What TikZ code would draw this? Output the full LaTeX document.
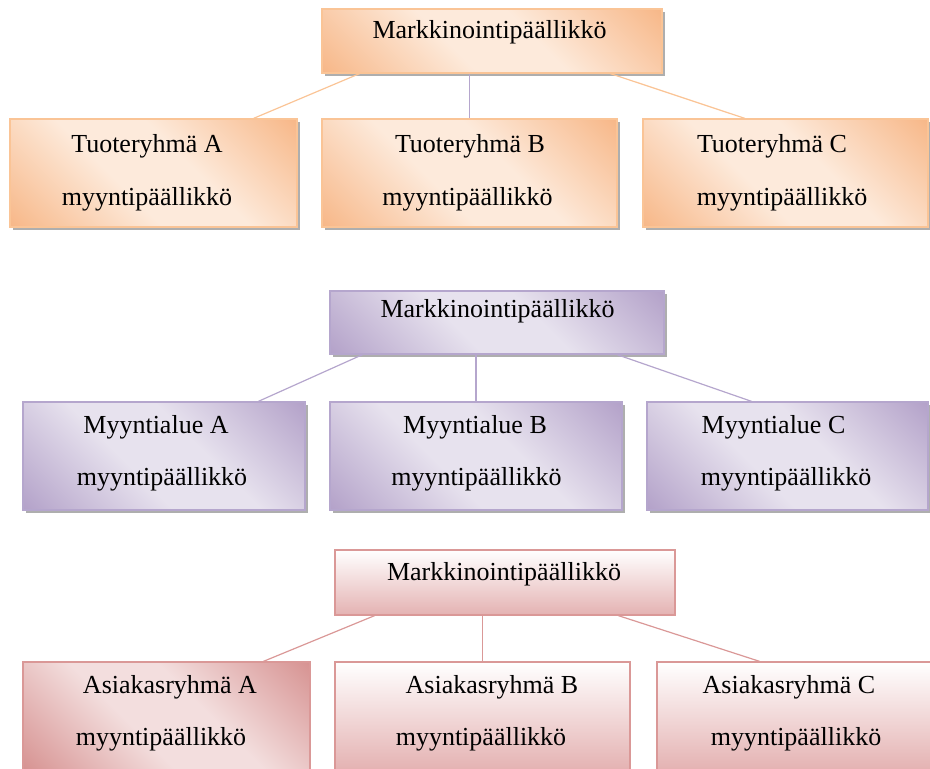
\documentclass[tikz,border=0pt]{standalone}
\usepackage{fontspec}
\setmainfont{Liberation Serif}
\usetikzlibrary{positioning, calc, shadows}

\definecolor{orDark}{RGB}{247,182,134}
\definecolor{orLight}{RGB}{253,234,219}
\definecolor{orLine}{RGB}{250,196,150}
\definecolor{puDark}{RGB}{178,160,200}
\definecolor{puLight}{RGB}{231,226,238}
\definecolor{puLine}{RGB}{181,166,205}
\definecolor{rdDark}{RGB}{214,145,144}
\definecolor{rdLight}{RGB}{243,222,222}
\definecolor{rdLow}{RGB}{228,178,178}
\definecolor{rdLine}{RGB}{218,152,151}

\pgfdeclareverticalshading{orShade}{100bp}{color(0bp)=(orDark); color(14bp)=(orDark); color(42bp)=(orLight); color(58bp)=(orLight); color(86bp)=(orDark); color(100bp)=(orDark)}
\pgfdeclareverticalshading{puShade}{100bp}{color(0bp)=(puDark); color(14bp)=(puDark); color(42bp)=(puLight); color(58bp)=(puLight); color(86bp)=(puDark); color(100bp)=(puDark)}
\pgfdeclareverticalshading{rdShade}{100bp}{color(0bp)=(rdDark); color(14bp)=(rdDark); color(42bp)=(rdLight); color(58bp)=(rdLight); color(86bp)=(rdDark); color(100bp)=(rdDark)}

\begin{document}
\begin{tikzpicture}[x=1pt, y=-1pt, line width=1.2pt, font=\fontsize{26}{30}\selectfont]

		% Define styles
		\tikzstyle{chief} = [rectangle, inner sep=0pt, minimum height=64pt]
		\tikzstyle{unit} = [rectangle, inner sep=0pt, minimum height=108pt]
		\tikzstyle{shade} = [drop shadow={shadow xshift=2.5pt, shadow yshift=-2.5pt, fill=black!45, opacity=.7}]
		\tikzstyle{orbox} = [draw=orLine, shade, shading=orShade, shading angle=135]
		\tikzstyle{pubox} = [draw=puLine, shade, shading=puShade, shading angle=135]
		\tikzstyle{rdbox} = [draw=rdLine, shading=rdShade, shading angle=135]
		\tikzstyle{rdfade} = [draw=rdLine, top color=white, bottom color=rdLow]
		\tikzstyle{lbl} = [anchor=base, inner sep=0pt]

		\useasboundingbox (0,0) rectangle (930,769);

		% Nodes: Tuoteryhmat
		\node[chief, orbox, minimum width=340pt] (oTop) at (492,41) {};
		\node[unit, orbox, minimum width=287pt] (oA) at (153.5,173) {};
		\node[unit, orbox, minimum width=295pt, right of=oA, node distance=316pt] (oB) {};
		\node[unit, orbox, minimum width=285pt, right of=oB, node distance=316pt] (oC) {};

		% Nodes: Myyntialueet
		\node[chief, pubox, minimum width=334pt, minimum height=63pt] (pTop) at (497,322.5) {};
		\node[unit, pubox, minimum width=282pt] (pA) at (164,456) {};
		\node[unit, pubox, minimum width=292pt, right of=pA, node distance=312pt] (pB) {};
		\node[unit, pubox, minimum width=281pt, right of=pB, node distance=311.5pt] (pC) {};

		% Nodes: Asiakasryhmat
		\node[chief, rdfade, minimum width=340pt, minimum height=65pt] (rTop) at (505,582.5) {};
		\node[unit, rdbox, minimum width=287pt] (rA) at (166.5,716) {};
		\node[unit, rdfade, minimum width=295pt, right of=rA, node distance=316pt] (rB) {};
		\node[unit, rdfade, minimum width=285pt, right of=rB, node distance=317pt] (rC) {};

		% Lines
		\draw[orLine] ($(oTop.south west)!.112!(oTop.south east)$) -- ($(oA.north west)!.847!(oA.north east)$);
		\draw[puLine] (oTop.south -| oB.north) -- (oB.north);
		\draw[orLine] ($(oTop.south west)!.847!(oTop.south east)$) -- ($(oC.north west)!.358!(oC.north east)$);

		\draw[puLine] ($(pTop.south west)!.099!(pTop.south east)$) -- ($(pA.north west)!.833!(pA.north east)$);
		\draw[puLine] (pTop.south -| pB.north) -- (pB.north);
		\draw[puLine] ($(pTop.south west)!.858!(pTop.south east)$) -- ($(pC.north west)!.373!(pC.north east)$);

		\draw[rdLine] ($(rTop.south west)!.118!(rTop.south east)$) -- ($(rA.north west)!.836!(rA.north east)$);
		\draw[rdLine] (rTop.south -| rB.north) -- (rB.north);
		\draw[rdLine] ($(rTop.south west)!.832!(rTop.south east)$) -- ($(rC.north west)!.361!(rC.north east)$);

		% Labels
		\node[lbl] (oTopT) at (489.5,38) {Markkinointipäällikkö};
		\node[lbl] (oA1) at (147,152) {Tuoteryhmä A};
		\node[lbl] (oA2) at (147,205) {myyntipäällikkö};
		\node[lbl] (oB1) at (470,152) {Tuoteryhmä B};
		\node[lbl] (oB2) at (467.5,205) {myyntipäällikkö};
		\node[lbl] (oC1) at (772,152) {Tuoteryhmä C};
		\node[lbl] (oC2) at (782,205) {myyntipäällikkö};

		\node[lbl] (pTopT) at (497.5,317) {Markkinointipäällikkö};
		\node[lbl] (pA1) at (156,433) {Myyntialue A};
		\node[lbl] (pA2) at (162,485) {myyntipäällikkö};
		\node[lbl] (pB1) at (475,433) {Myyntialue B};
		\node[lbl] (pB2) at (476.5,485) {myyntipäällikkö};
		\node[lbl] (pC1) at (773.5,433) {Myyntialue C};
		\node[lbl] (pC2) at (786,485) {myyntipäällikkö};

		\node[lbl] (rTopT) at (504,580) {Markkinointipäällikkö};
		\node[lbl] (rA1) at (170,693) {Asiakasryhmä A};
		\node[lbl] (rA2) at (161,745) {myyntipäällikkö};
		\node[lbl] (rB1) at (492,693) {Asiakasryhmä B};
		\node[lbl] (rB2) at (481,745) {myyntipäällikkö};
		\node[lbl] (rC1) at (789,693) {Asiakasryhmä C};
		\node[lbl] (rC2) at (796,745) {myyntipäällikkö};

	\end{tikzpicture}
\end{document}
